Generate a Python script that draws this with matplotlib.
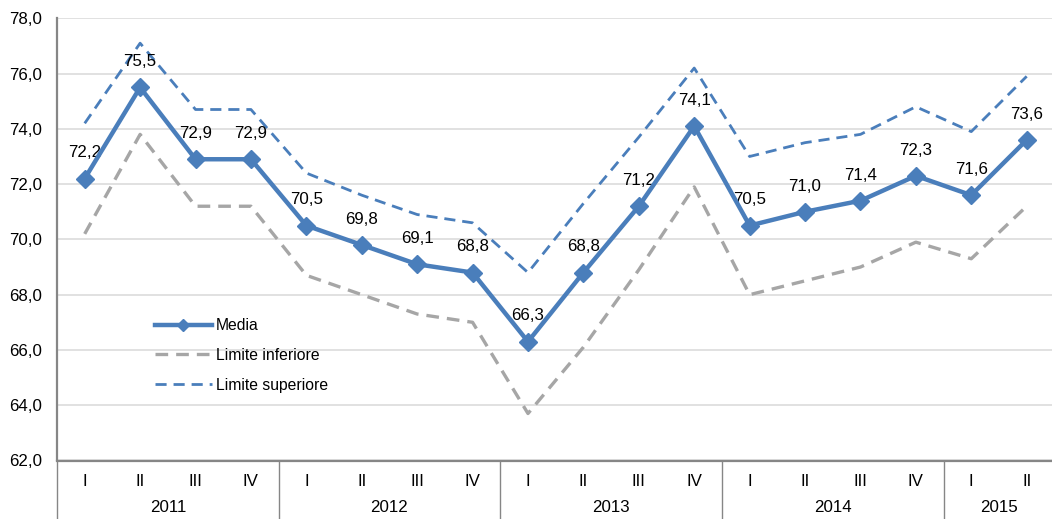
import matplotlib
matplotlib.use("Agg")
import matplotlib.pyplot as plt
import matplotlib.transforms as mtransforms

plt.rcParams['font.family'] = ['Liberation Sans', 'DejaVu Sans']

years = ["2011", "2012", "2013", "2014", "2015"]
quarters_per_year = [4, 4, 4, 4, 2]
quarter_labels = ["I", "II", "III", "IV"] * 4 + ["I", "II"]

media = [72.2, 75.5, 72.9, 72.9, 70.5, 69.8, 69.1, 68.8, 66.3, 68.8, 71.2, 74.1,
         70.5, 71.0, 71.4, 72.3, 71.6, 73.6]
lim_inf = [70.2, 73.8, 71.2, 71.2, 68.7, 68.0, 67.3, 67.0, 63.7, 66.1, 68.9, 71.9,
           68.0, 68.5, 69.0, 69.9, 69.3, 71.2]
lim_sup = [74.2, 77.1, 74.7, 74.7, 72.4, 71.6, 70.9, 70.6, 68.8, 71.3, 73.7, 76.2,
           73.0, 73.5, 73.8, 74.8, 73.9, 75.9]

W, H = 1052, 519
fig = plt.figure(figsize=(W / 100, H / 100), dpi=100)
left_px, top_px, bottom_px = 57, 18.3, 460.5
ax = fig.add_axes([left_px / W, 1 - bottom_px / H, 1 - left_px / W, (bottom_px - top_px) / H])

x = list(range(len(media)))
blue = "#4A7EBB"
gray = "#A6A6A6"
FS = 12.2

ax.plot(x, lim_inf, color=gray, lw=2.4, dashes=(3.8, 2.4), label="Limite inferiore", zorder=3)
ax.plot(x, lim_sup, color=blue, lw=2.0, dashes=(4, 2.5), label="Limite superiore", zorder=3)
ax.plot(x, media, color=blue, lw=3.2, marker="D", markersize=9.5, label="Media", zorder=4)

for xi, v in zip(x, media):
    ax.annotate(f"{v:.1f}".replace(".", ","), (xi, v), xytext=(0, 18.5),
                textcoords="offset points", ha="center", va="center", fontsize=FS, color="black")

yt = [62, 64, 66, 68, 70, 72, 74, 76, 78]
ax.set_ylim(62, 78)
ax.set_yticks(yt)
ax.set_yticklabels([f"{t:.1f}".replace(".", ",") for t in yt])
ax.set_xlim(-0.5, -0.5 + (W - left_px) / 55.41)
ax.set_xticks(x)
ax.set_xticklabels(quarter_labels)
ax.tick_params(axis="both", length=0, labelsize=FS, colors="black")
ax.tick_params(axis="y", pad=11)
ax.tick_params(axis="x", pad=10)

ax.grid(axis="y", color="#D9D9D9", lw=1.1, zorder=0)
ax.set_axisbelow(True)
for s in ["top", "right"]:
    ax.spines[s].set_visible(False)
ax.spines["left"].set_color("#868686")
ax.spines["left"].set_linewidth(1.6)
ax.spines["bottom"].set_color("#868686")
ax.spines["bottom"].set_linewidth(1.6)

# Year grouping below axis
trans = mtransforms.blended_transform_factory(ax.transData, ax.transAxes)
ax_h = bottom_px - top_px
y_bottom = -(H - bottom_px) / ax_h
y_year = -(508 - bottom_px) / ax_h
start = 0
bounds = [-0.5]
for yr, n in zip(years, quarters_per_year):
    center = start + (n - 1) / 2
    ax.text(center, y_year, yr, transform=trans, ha="center", va="center", fontsize=FS)
    start += n
    bounds.append(start - 0.5)
for b in bounds:
    ax.plot([b, b], [0, y_bottom], transform=trans, color="#868686", lw=1.0, clip_on=False)

handles, labels = ax.get_legend_handles_labels()
order = [2, 0, 1]
leg = fig.legend([handles[i] for i in order], [labels[i] for i in order],
                 loc="upper left", bbox_to_anchor=(155 / W, 1 - 318 / H),
                 frameon=False, fontsize=11.3, handlelength=3.6, handletextpad=0.3,
                 labelspacing=0.95, borderpad=0, borderaxespad=0)
leg.legend_handles[0].set_markersize(6)

fig.savefig("out.png", dpi=100)
